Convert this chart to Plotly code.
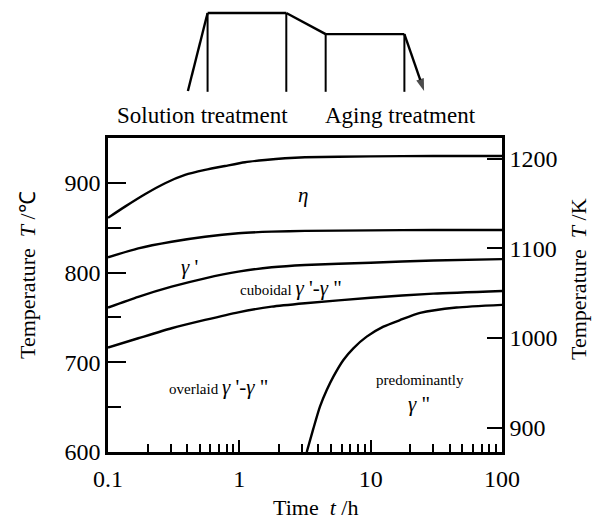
import numpy as np
import plotly.graph_objects as go

# ---------------- data ----------------
t_eta = [0.1, 0.1347, 0.191, 0.272, 0.386, 0.548, 0.778, 1.105, 1.569, 2.227, 3.16, 10, 30, 100]
eta_solvus = [861, 873.5, 887.3, 899.6, 908.8, 914.4, 918.8, 923, 925.5, 927.4, 928.5, 929.5, 930, 930]

t_common = [0.1, 0.17, 0.305, 0.548, 0.982, 1.764, 3.16, 10, 30, 100]
gp_solvus = [817, 827, 834.4, 840, 843.8, 845.6, 846.5, 847, 847.5, 847.5]
cuboidal_upper = [761, 773, 784.3, 793.6, 801, 805.9, 808.5, 811, 813.5, 815]
cuboidal_lower = [716.5, 726.8, 737.9, 747.2, 755.7, 762, 765.8, 772, 776.5, 779.5]

t_gpp = [3.26, 3.66, 4.11, 4.63, 5.2, 6.2, 7.38, 9.33, 12.5, 16.7, 23.8, 45, 100]
gpp_boundary = [600, 626, 650.5, 669, 684, 702.6, 715.6, 728.6, 739.7, 747, 755, 761, 764]

x_ticks = [0.1, 1, 10, 100]
x_ticktext = ["0.1", "1", "10", "100"]
x_minor = [m * d for d in (0.1, 1, 10) for m in range(2, 10)]
yC_ticks = [600, 700, 800, 900]
yC_minor = [650, 750, 850]
yK_ticks = [900, 1000, 1100, 1200]

# schematic heat-treatment profile (stage index, temperature degC)
prof_x = [0, 1, 5, 7, 11, 12]
prof_T = [20, 980, 980, 720, 720, 20]
stage_marks_x = [1, 5, 7, 11]
stage_marks_T = [980, 980, 720, 720]
base_T = 20

G = "<i>γ</i>"
labels = [
    # (text, t, T, size)
    ("<i>η</i>", 3.07, 886, 21),
    (f"{G} '", 0.42, 806.5, 21),
    (f"cuboidal <span style='font-size:21px'>{G} '-{G} \"</span>", 2.47, 783, 15),
    (f"overlaid <span style='font-size:21px'>{G} '-{G} \"</span>", 0.69, 672.5, 15),
    ("predominantly", 23.9, 680, 15),
    (f"{G} \"", 23.5, 654, 21),
]

FONT = "Liberation Serif"
W, H = 596, 521
ML, MR, MT, MB = 108, 94, 5, 69
plot_h = H - MT - MB
plot_w = W - ML - MR
main_top = 314 / plot_h


def px_x(p):
    return (p - ML) / plot_w


def px_y(p):
    return (H - MB - p) / plot_h


fig = go.Figure()

line_style = dict(color="black", width=2.4, shape="spline", smoothing=0.6)
fig.add_trace(go.Scatter(x=t_eta, y=eta_solvus, mode="lines", line=line_style,
                         xaxis="x", yaxis="y", showlegend=False, hoverinfo="skip"))
for ys in (gp_solvus, cuboidal_upper, cuboidal_lower):
    fig.add_trace(go.Scatter(x=t_common, y=ys, mode="lines", line=line_style,
                             xaxis="x", yaxis="y", showlegend=False, hoverinfo="skip"))
fig.add_trace(go.Scatter(x=t_gpp, y=gpp_boundary, mode="lines", line=line_style,
                         xaxis="x", yaxis="y", showlegend=False, hoverinfo="skip"))
# invisible trace on the Kelvin axis
fig.add_trace(go.Scatter(x=[0.1], y=[900], mode="markers", marker=dict(opacity=0),
                         xaxis="x", yaxis="y2", showlegend=False, hoverinfo="skip"))

# schematic
fig.add_trace(go.Scatter(x=prof_x, y=prof_T, mode="lines+markers",
                         line=dict(color="black", width=2.4),
                         marker=dict(symbol="arrow", angleref="previous", color="black",
                                     size=[0, 0, 0, 0, 0, 13], line=dict(width=0)),
                         xaxis="x3", yaxis="y3", showlegend=False, hoverinfo="skip"))
vx, vy = [], []
for sx, sT in zip(stage_marks_x, stage_marks_T):
    vx += [sx, sx, None]
    vy += [sT, base_T - 10, None]
fig.add_trace(go.Scatter(x=vx, y=vy, mode="lines", line=dict(color="black", width=2),
                         xaxis="x3", yaxis="y3", showlegend=False, hoverinfo="skip"))

annotations = []
for txt, tt, TT, sz in labels:
    annotations.append(dict(x=np.log10(tt), y=TT, xref="x", yref="y",
                            text=txt, showarrow=False,
                            xanchor="center", yanchor="middle",
                            font=dict(family=FONT, size=sz, color="black")))
for txt, px in (("Solution treatment", 202), ("Aging treatment", 400)):
    annotations.append(dict(x=px_x(px), y=px_y(115), xref="paper", yref="paper", text=txt,
                            xanchor="center", yanchor="middle", showarrow=False,
                            font=dict(family=FONT, size=23, color="black")))

title_font = dict(family=FONT, size=22, color="black")
annotations += [
    dict(x=px_x(315), y=px_y(507), xref="paper", yref="paper",
         text="Time  <i>t</i> /h", showarrow=False, xanchor="center", yanchor="middle",
         font=title_font),
    dict(x=px_x(27), y=px_y(275), xref="paper", yref="paper", textangle=-90,
         text="Temperature  <i>T</i> /℃", showarrow=False, xanchor="center", yanchor="middle",
         font=title_font),
    dict(x=px_x(579), y=px_y(279), xref="paper", yref="paper", textangle=-90,
         text="Temperature  <i>T</i> /K", showarrow=False, xanchor="center", yanchor="middle",
         font=title_font),
]

axis_font = dict(family=FONT, size=24, color="black")

fig.update_layout(
    width=W, height=H, autosize=False,
    margin=dict(l=ML, r=MR, t=MT, b=MB),
    paper_bgcolor="white", plot_bgcolor="white",
    annotations=annotations,
    xaxis=dict(type="log", range=[-1, 2], domain=[0, 1], anchor="y",
               tickvals=x_ticks, ticktext=x_ticktext, ticks="inside", ticklen=12,
               tickwidth=2, tickcolor="black", showline=True, linewidth=2.5,
               linecolor="black", mirror=True, showgrid=False, zeroline=False,
               tickfont=axis_font, ticklabelstandoff=3,
               minor=dict(tickvals=x_minor, ticks="inside", ticklen=8, tickwidth=1.5,
                          tickcolor="black", showgrid=False)),
    yaxis=dict(range=[600, 950], domain=[0, main_top], anchor="x",
               tickvals=yC_ticks, ticks="inside", ticklen=18, tickwidth=2,
               tickcolor="black", showline=True, linewidth=2.5, linecolor="black",
               showgrid=False, zeroline=False, tickfont=axis_font,
               minor=dict(tickvals=yC_minor, ticks="inside", ticklen=13, tickwidth=2,
                          tickcolor="black", showgrid=False)),
    yaxis2=dict(range=[873, 1223], overlaying="y", side="right", anchor="x",
                tickvals=yK_ticks, ticks="inside", ticklen=15, tickwidth=2,
                tickcolor="black", showline=True, linewidth=2.5, linecolor="black",
                showgrid=False, zeroline=False, tickfont=axis_font),
    xaxis3=dict(domain=[0, 1], anchor="y3", range=[-4.06, 15.96], visible=False),
    yaxis3=dict(domain=[(H - MB - 100 - MT) / plot_h + MT / plot_h, 1], anchor="x3",
                range=[-90.8, 1078], visible=False),
)

fig.write_html("out.html")
